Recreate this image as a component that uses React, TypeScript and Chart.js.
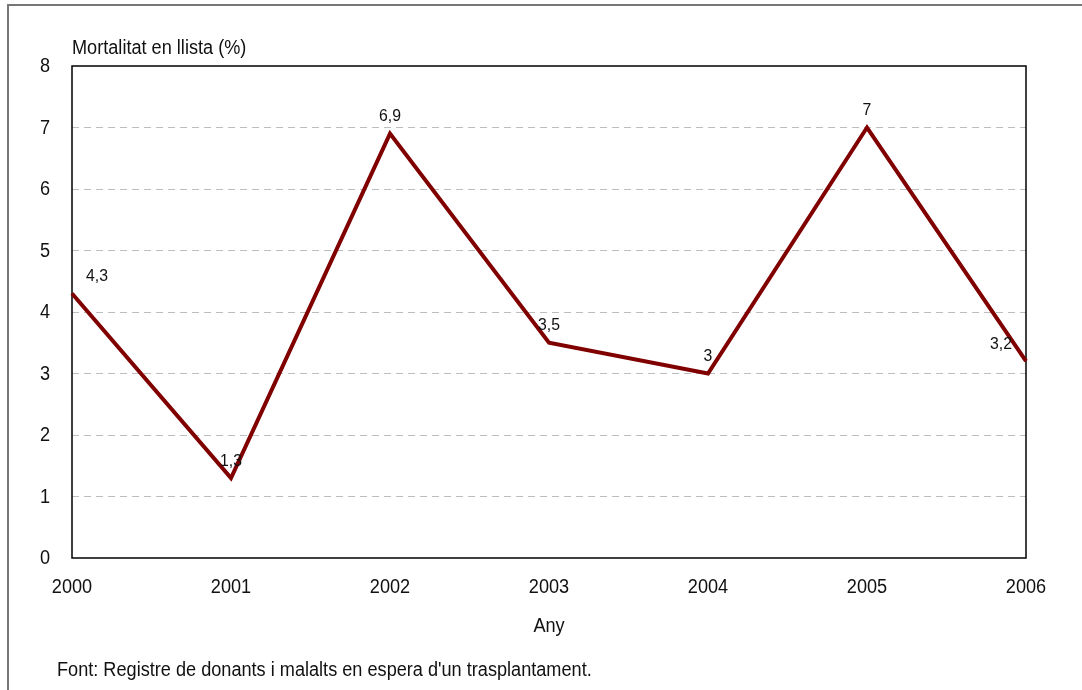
import React, { useEffect, useRef } from "react";
import { Chart, registerables } from "chart.js";

Chart.register(...registerables);

const years = ["2000", "2001", "2002", "2003", "2004", "2005", "2006"];
const mortality = [4.3, 1.3, 6.9, 3.5, 3, 7, 3.2];
const valueLabels = ["4,3", "1,3", "6,9", "3,5", "3", "7", "3,2"];
const yTitle = "Mortalitat en llista (%)";
const xTitle = "Any";
const footnote = "Font: Registre de donants i malalts en espera d'un trasplantament.";

const FONT = '"Liberation Sans", Arial, sans-serif';
const SX = 0.93;

function drawText(ctx: CanvasRenderingContext2D, text: string, x: number, y: number, align: CanvasTextAlign, size: number) {
  ctx.save();
  ctx.translate(x, y);
  ctx.scale(SX, 1);
  ctx.font = `${size}px ${FONT}`;
  ctx.textAlign = align;
  ctx.textBaseline = "middle";
  ctx.fillStyle = "#111";
  ctx.fillText(text, 0, 0);
  ctx.restore();
}

const decorPlugin = {
  id: "decor",
  beforeDatasetsDraw(chart: any) {
    const { ctx, chartArea: a } = chart;
    ctx.save();
    ctx.strokeStyle = "#000";
    ctx.lineWidth = 1.5;
    ctx.strokeRect(a.left, a.top, a.right - a.left, a.bottom - a.top);
    ctx.restore();
  },
  afterDraw(chart: any) {
    const { ctx, chartArea: a } = chart;
    ctx.save();
    // outer frame (top + left)
    ctx.strokeStyle = "#777";
    ctx.lineWidth = 2;
    ctx.beginPath();
    ctx.moveTo(8, chart.height);
    ctx.lineTo(8, 5);
    ctx.lineTo(chart.width, 5);
    ctx.stroke();
    ctx.restore();

    drawText(ctx, yTitle, a.left, 49, "left", 19.5);
    drawText(ctx, xTitle, (a.left + a.right) / 2, 627, "center", 19.5);
    drawText(ctx, footnote, 57, 671, "left", 19.5);

    // tick labels via the library's scales
    const ys = chart.scales.y;
    ys.ticks.forEach((t: any) => {
      drawText(ctx, String(t.value), 50, ys.getPixelForValue(t.value) + 1, "right", 19.5);
    });
    const xs = chart.scales.x;
    years.forEach((lab, i) => {
      drawText(ctx, lab, xs.getPixelForValue(i), 588, "center", 19.5);
    });

    // data labels
    const meta = chart.getDatasetMeta(0);
    const n = meta.data.length;
    meta.data.forEach((pt: any, i: number) => {
      if (i === 0) drawText(ctx, valueLabels[i], pt.x + 14, pt.y - 17, "left", 17);
      else if (i === n - 1) drawText(ctx, valueLabels[i], pt.x - 14, pt.y - 17, "right", 17);
      else drawText(ctx, valueLabels[i], pt.x, pt.y - 17, "center", 17);
    });
  },
};

export default function App() {
  const ref = useRef<HTMLCanvasElement | null>(null);
  useEffect(() => {
    if (!ref.current) return;
    const chart = new Chart(ref.current, {
      type: "line",
      data: {
        labels: years,
        datasets: [
          {
            data: mortality,
            borderColor: "#800000",
            borderWidth: 4,
            pointRadius: 0,
            tension: 0,
            fill: false,
          },
        ],
      },
      options: {
        responsive: false,
        animation: false,
        maintainAspectRatio: false,
        layout: { padding: { left: 0, top: 66, right: 56, bottom: 72 } },
        plugins: {
          legend: { display: false },
          tooltip: { enabled: false },
          title: { display: false },
        },
        scales: {
          x: {
            type: "category",
            offset: false,
            grid: { display: false, drawTicks: false },
            border: { display: false },
            ticks: { display: false, autoSkip: false },
            afterFit(s: any) {
              s.height = 60;
            },
          },
          y: {
            min: 0,
            max: 8,
            grid: {
              drawTicks: false,
              color: (c: any) =>
                c.tick && (c.tick.value === 0 || c.tick.value === 8) ? "rgba(0,0,0,0)" : "#bdbdbd",
              lineWidth: 1,
            },
            border: { display: false, dash: [7, 5] },
            ticks: { stepSize: 1, display: false },
            afterFit(s: any) {
              s.width = 72;
            },
          },
        },
      },
      plugins: [decorPlugin],
    });
    return () => chart.destroy();
  }, []);
  return (
    <div style={{ position: "fixed", left: 0, top: 0, width: 1082, height: 690, background: "#fff" }}>
      <canvas ref={ref} width={1082} height={690} style={{ display: "block" }} />
    </div>
  );
}
